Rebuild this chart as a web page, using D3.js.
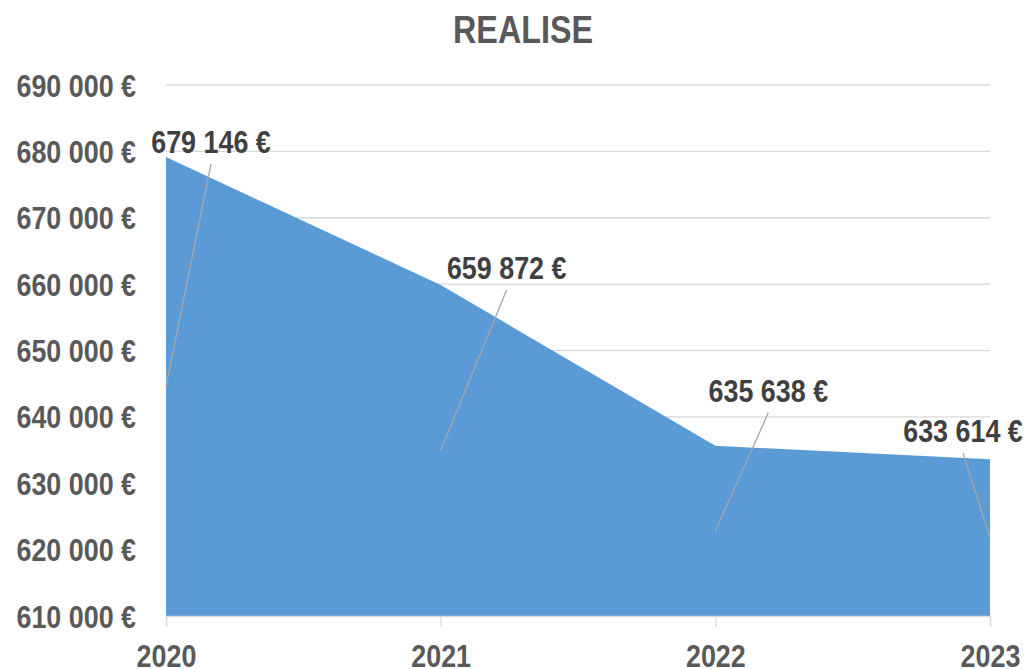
<!DOCTYPE html>
<html>
<head>
<meta charset="utf-8">
<script src="https://cdn.jsdelivr.net/npm/d3@7"></script>
<style>
  body { margin: 0; background: #fff; }
  text { font-family: "Liberation Sans", Arial, sans-serif; font-weight: bold; }
</style>
</head>
<body>
<svg width="1026" height="669"></svg>
<script>
var years = ["2020", "2021", "2022", "2023"];
var values = [679146, 659872, 635638, 633614];
var yTicks = [610000, 620000, 630000, 640000, 650000, 660000, 670000, 680000, 690000];
var labelText = ["679 146 €", "659 872 €", "635 638 €", "633 614 €"];
// manual label placement, offsets from the data point (px)
var labelDx = [45, 66, 53, -27];
var labelDy = [-4, -6, -44, -17];

var svg = d3.select("svg"),
    width = 1026,
    height = 669,
    squeeze = 0.84; // condensed look

var x = d3.scalePoint().domain(years).range([166, 990]);
var y = d3.scaleLinear().domain([610000, 690000]).range([616, 85]);

var fmt = function(v) { return d3.format(",")(v).replace(/,/g, " ") + " €"; };

function narrowText(sel, tx, ty) {
  return sel.attr("transform", function(d, i) {
      return "translate(" + tx(d, i) + "," + ty(d, i) + ") scale(" + squeeze + ",1)";
  });
}

// title
svg.append("text")
    .attr("transform", "translate(523,43) scale(0.85,1)")
    .attr("text-anchor", "middle")
    .style("font-size", "38px")
    .style("fill", "#595959")
    .text("REALISE");

// gridlines
svg.append("g")
    .selectAll("line")
    .data(yTicks.slice(1))
    .enter().append("line")
      .attr("x1", 166).attr("x2", 990)
      .attr("y1", function(d) { return y(d); })
      .attr("y2", function(d) { return y(d); })
      .attr("stroke", "#d9d9d9")
      .attr("stroke-width", 1.3);

// y axis labels
svg.append("g")
    .selectAll("text")
    .data(yTicks)
    .enter().append("text")
      .call(narrowText, function() { return 136; }, function(d) { return y(d) + 11.5; })
      .attr("text-anchor", "end")
      .style("font-size", "32px")
      .style("fill", "#595959")
      .text(fmt);

// area
var data = years.map(function(yr, i) { return { year: yr, value: values[i] }; });
var area = d3.area()
    .x(function(d) { return x(d.year); })
    .y0(y(610000))
    .y1(function(d) { return y(d.value); });

svg.append("path")
    .datum(data)
    .attr("d", area)
    .attr("fill", "#5b9bd5");

// x axis
var xAxis = svg.append("g")
    .attr("transform", "translate(0," + y(610000) + ")")
    .call(d3.axisBottom(x).tickSize(11).tickPadding(40));
xAxis.select(".domain").attr("stroke", "#d9d9d9").attr("stroke-width", 1.3);
xAxis.selectAll(".tick line").attr("stroke", "#d9d9d9").attr("stroke-width", 1.3);
xAxis.selectAll(".tick text")
    .attr("y", 51)
    .attr("dy", 0)
    .attr("transform", "scale(" + squeeze + ",1)")
    .style("font-size", "32px")
    .style("font-family", "'Liberation Sans', Arial, sans-serif")
    .style("font-weight", "bold")
    .attr("fill", "#595959");

// data labels with leader lines
var lbl = svg.append("g").selectAll("g")
    .data(data)
    .enter().append("g");

lbl.append("line")
    .attr("x1", function(d, i) { return x(d.year) + labelDx[i]; })
    .attr("y1", function(d, i) { return y(d.value) + labelDy[i] + 11; })
    .attr("x2", function(d) { return x(d.year); })
    .attr("y2", function(d) { return (y(d.value) + y(610000)) / 2; })
    .attr("stroke", "#a6a6a6")
    .attr("stroke-width", 1.3);

lbl.append("text")
    .call(narrowText,
          function(d, i) { return x(d.year) + labelDx[i]; },
          function(d, i) { return y(d.value) + labelDy[i]; })
    .attr("text-anchor", "middle")
    .style("font-size", "32px")
    .style("fill", "#404040")
    .text(function(d, i) { return labelText[i]; });
</script>
</body>
</html>
